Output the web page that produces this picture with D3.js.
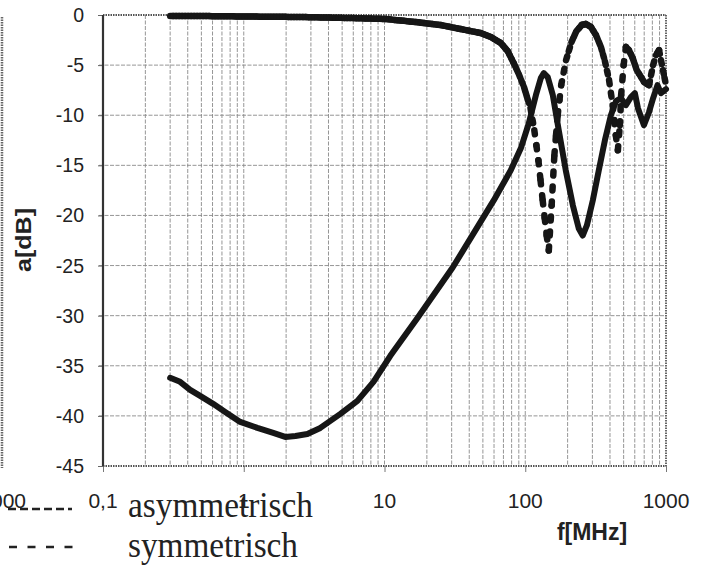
<!DOCTYPE html>
<html>
<head>
<meta charset="utf-8">
<script src="https://cdn.jsdelivr.net/npm/d3@7/dist/d3.min.js"></script>
<style>
  html, body { margin: 0; padding: 0; background: #fff; }
  svg { display: block; }
</style>
</head>
<body>
<svg id="chart" width="707" height="566"></svg>
<script>
// ---------- data ----------
const yTicks = [0, -5, -10, -15, -20, -25, -30, -35, -40, -45];
const xTicks = [0.1, 1, 10, 100, 1000];
const xTickLabels = ["0,1", "1", "10", "100", "1000"];
const legendLabels = ["asymmetrisch", "symmetrisch"];
const xTitle = "f[MHz]";
const yTitle = "a[dB]";

// solid curve (asymmetrisch)
const asymFreq = [0.3, 0.353, 0.416, 0.49, 0.606, 0.738, 0.944, 1.25, 1.62, 1.97, 2.33, 2.83, 3.5, 4.86, 6.42, 8.35, 11.0, 17.2, 30.5, 59.7, 78.9, 93, 106, 119, 129, 135.5, 144.5, 157, 173, 194, 218, 240, 256, 274, 302, 333, 368, 406, 441, 479, 519, 563, 601, 632, 697, 757, 810, 870, 921, 1000];
const asymDb   = [-36.2, -36.6, -37.4, -38.0, -38.8, -39.6, -40.6, -41.2, -41.7, -42.1, -42.0, -41.8, -41.2, -39.8, -38.5, -36.6, -34.0, -30.2, -25.2, -18.5, -15.5, -13.3, -10.8, -8.0, -6.3, -5.8, -6.2, -8.0, -11.5, -15.5, -19.0, -21.3, -22.0, -21.0, -18.5, -15.5, -12.5, -10.0, -8.6, -8.3, -9.0, -8.2, -7.8, -9.3, -11.0, -9.7, -8.3, -7.0, -7.8, -7.4];

// dashed curve (symmetrisch)
const symFreq = [0.3, 0.49, 1.02, 2.5, 5.7, 10.2, 16.6, 25, 34.7, 48.2, 57, 67, 75, 82.8, 90, 98, 104, 109, 116, 124, 133, 142, 147, 154, 161, 170, 180, 195, 213, 231, 252, 270, 293, 318, 345, 368, 394, 418, 440, 455, 470, 480, 500, 519, 545, 580, 620, 700, 757, 810, 849, 892, 952, 1000];
const symDb   = [-0.1, -0.1, -0.15, -0.2, -0.3, -0.4, -0.7, -1.0, -1.4, -1.8, -2.2, -2.8, -3.6, -4.8, -5.9, -7.2, -8.4, -9.3, -11.5, -14.5, -18.5, -22.0, -23.5, -19.0, -14.0, -10.0, -7.0, -4.5, -2.7, -1.6, -1.0, -0.9, -1.2, -2.0, -3.2, -4.6, -6.5, -9.0, -12.0, -13.5, -11.0, -8.0, -5.0, -3.2, -3.5, -4.3, -5.5, -6.7, -7.0, -5.0, -4.0, -3.5, -5.5, -7.0];

// ---------- drawing ----------
const svg = d3.select("#chart");
const W = 707, H = 566;
const L = 103, R = 666, T = 15, B = 466;

const x = d3.scaleLog().domain([0.1, 1000]).range([L, R]);
const y = d3.scaleLinear().domain([-45, 0]).range([B, T]);

svg.append("rect").attr("width", W).attr("height", H).attr("fill", "#fff");

// gridlines
const minorX = [];
for (let d = 0.1; d < 1000; d *= 10) {
  for (let k = 1; k <= 9; k++) minorX.push(+(d * k).toPrecision(3));
}
const grid = svg.append("g");
grid.selectAll("line.vx").data(minorX.filter(v => v > 0.1 && v < 1000)).join("line")
  .attr("x1", d => x(d)).attr("x2", d => x(d))
  .attr("y1", T).attr("y2", B)
  .attr("stroke", "#8a8a8a").attr("stroke-width", 0.9).attr("stroke-dasharray", "4,1.5");
grid.selectAll("line.hy").data(yTicks.filter(v => v < 0 && v > -45)).join("line")
  .attr("x1", L - 4).attr("x2", R)
  .attr("y1", d => y(d)).attr("y2", d => y(d))
  .attr("stroke", "#8a8a8a").attr("stroke-width", 0.9).attr("stroke-dasharray", "4,1.5");

// axes with d3 axis generators (ticks only, labels drawn separately)
const yAxis = svg.append("g").attr("transform", `translate(${L},0)`)
  .call(d3.axisLeft(y).tickValues(yTicks).tickSize(5).tickFormat(""));
yAxis.select(".domain").remove();
yAxis.selectAll("line").attr("stroke", "#666");

const xAxis = svg.append("g").attr("transform", `translate(0,${B})`)
  .call(d3.axisBottom(x).tickValues(xTicks).tickSize(6).tickFormat(""));
xAxis.select(".domain").remove();
xAxis.selectAll("line").attr("stroke", "#777");

// plot frame
svg.append("line").attr("x1", L).attr("x2", R).attr("y1", T).attr("y2", T)
  .attr("stroke", "#555").attr("stroke-width", 1.8).attr("stroke-dasharray", "1.5,1");
svg.append("line").attr("x1", R).attr("x2", R).attr("y1", T).attr("y2", B)
  .attr("stroke", "#555").attr("stroke-width", 1.8).attr("stroke-dasharray", "1.5,1");
svg.append("line").attr("x1", L).attr("x2", R).attr("y1", B).attr("y2", B)
  .attr("stroke", "#555").attr("stroke-width", 1.8).attr("stroke-dasharray", "1.5,1");
svg.append("line").attr("x1", L).attr("x2", L).attr("y1", T).attr("y2", B)
  .attr("stroke", "#333").attr("stroke-width", 2.2);

// left edge (remnant frame of neighbouring chart)
svg.append("line").attr("x1", 2).attr("x2", 2).attr("y1", 17).attr("y2", 468)
  .attr("stroke", "#666").attr("stroke-width", 2.5).attr("stroke-dasharray", "1.5,1");

// y tick labels
svg.append("g").selectAll("text").data(yTicks).join("text")
  .attr("x", 84).attr("y", d => y(d)).attr("dy", "0.36em")
  .attr("text-anchor", "end")
  .attr("font-family", "Liberation Sans, Arial, sans-serif")
  .attr("font-size", 19.5).attr("fill", "#222")
  .text(d => d);

// x tick labels
svg.append("g").selectAll("text").data(xTicks).join("text")
  .attr("x", d => x(d)).attr("y", 508)
  .attr("text-anchor", "middle")
  .attr("font-family", "Liberation Sans, Arial, sans-serif")
  .attr("font-size", 21).attr("fill", "#222")
  .text((d, i) => xTickLabels[i]);

// remnant label of neighbouring chart
svg.append("text").attr("x", 26).attr("y", 508).attr("text-anchor", "end")
  .attr("font-family", "Liberation Sans, Arial, sans-serif")
  .attr("font-size", 21).attr("fill", "#222").text("1000");

// axis titles
svg.append("text").attr("x", 592).attr("y", 540).attr("text-anchor", "middle")
  .attr("font-family", "Liberation Sans, Arial, sans-serif").attr("font-weight", "bold")
  .attr("font-size", 23).attr("fill", "#222").text(xTitle);
svg.append("text").attr("transform", "translate(31,240) rotate(-90)")
  .attr("text-anchor", "middle")
  .attr("font-family", "Liberation Sans, Arial, sans-serif").attr("font-weight", "bold")
  .attr("font-size", 22).attr("textLength", 64).attr("lengthAdjust", "spacingAndGlyphs")
  .attr("fill", "#222").text(yTitle);

// curves
svg.append("clipPath").attr("id", "plotclip")
  .append("rect").attr("x", L).attr("y", T - 6).attr("width", R - L + 4).attr("height", B - T + 6);

const asymPts = asymFreq.map((f, i) => [x(f), y(asymDb[i])]);
const symPts = symFreq.map((f, i) => [x(f), y(symDb[i])]);

const line = d3.line().curve(d3.curveLinear);

// dashed series: the dash pattern restarts on every short piece of the line,
// so flat parts look solid and steep parts show gaps
const pieces = [];
for (let i = 0; i < symPts.length - 1; i++) {
  const [x0, y0] = symPts[i], [x1, y1] = symPts[i + 1];
  const n = Math.max(1, Math.ceil((x1 - x0) / 3));
  for (let k = 0; k < n; k++) {
    const t0 = k / n, t1 = (k + 1) / n;
    pieces.push([[x0 + (x1 - x0) * t0, y0 + (y1 - y0) * t0], [x0 + (x1 - x0) * t1, y0 + (y1 - y0) * t1]]);
  }
}
const curves = svg.append("g").attr("clip-path", "url(#plotclip)");
curves.selectAll("path.sym").data(pieces).join("path")
  .attr("class", "sym")
  .attr("d", d => line(d))
  .attr("fill", "none").attr("stroke", "#161616").attr("stroke-width", 6.5)
  .attr("stroke-linecap", "round").attr("stroke-dasharray", "4,11");

curves.append("path").attr("d", line(asymPts))
  .attr("fill", "none").attr("stroke", "#161616").attr("stroke-width", 6)
  .attr("stroke-linejoin", "round").attr("stroke-linecap", "round");

// legend
const leg = svg.append("g");
leg.append("line").attr("x1", 8).attr("x2", 72).attr("y1", 509).attr("y2", 509)
  .attr("stroke", "#222").attr("stroke-width", 2.6).attr("stroke-dasharray", "8,4");
leg.append("line").attr("x1", 9).attr("x2", 73).attr("y1", 547).attr("y2", 547)
  .attr("stroke", "#222").attr("stroke-width", 2.6).attr("stroke-dasharray", "8,10.5");
leg.selectAll("text").data(legendLabels).join("text")
  .attr("x", 128).attr("y", (d, i) => i === 0 ? 517 : 557)
  .attr("font-family", "Liberation Serif, Times New Roman, serif")
  .attr("font-size", 36).attr("fill", "#222")
  .attr("textLength", (d, i) => i === 0 ? 185 : 170)
  .attr("lengthAdjust", "spacingAndGlyphs")
  .text(d => d);
</script>
</body>
</html>
